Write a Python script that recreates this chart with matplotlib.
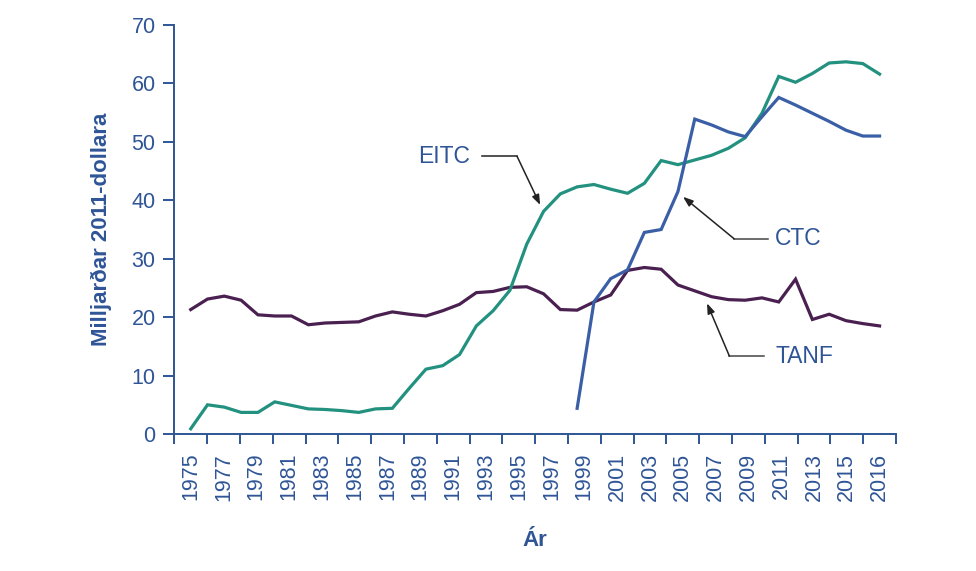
import numpy as np
import matplotlib
matplotlib.use("Agg")
import matplotlib.pyplot as plt
from matplotlib.ticker import FixedLocator

plt.rcParams['font.family'] = ['Liberation Sans', 'DejaVu Sans']

years = list(range(1975, 2017))

eitc = [0.9, 5.0, 4.6, 3.7, 3.7, 5.5, 4.9, 4.3, 4.2, 4.0,
        3.7, 4.3, 4.4, 7.8, 11.1, 11.7, 13.6, 18.5, 21.1, 24.6,
        32.5, 38.1, 41.1, 42.3, 42.7, 41.9, 41.2, 42.9, 46.8, 46.1,
        46.9, 47.7, 48.9, 50.7, 54.9, 61.2, 60.2, 61.7, 63.5, 63.7,
        63.4, 61.6]

tanf = [21.3, 23.1, 23.6, 22.9, 20.4, 20.2, 20.2, 18.7, 19.0, 19.1,
        19.2, 20.2, 20.9, 20.5, 20.2, 21.1, 22.2, 24.2, 24.4, 25.1,
        25.2, 24.0, 21.3, 21.2, 22.6, 23.8, 28.0, 28.5, 28.2, 25.5,
        24.5, 23.5, 23.0, 22.9, 23.3, 22.6, 26.5, 19.6, 20.5, 19.4,
        18.9, 18.5]

ctc_years = list(range(1998, 2017))
ctc = [4.4, 22.6, 26.6, 28.1, 34.5, 35.0, 41.5, 53.9, 52.9, 51.7,
       50.9, 54.3, 57.6, 56.3, 54.9, 53.5, 52.0, 51.0, 51.0]

tick_labels = [str(y) for y in range(1975, 2016, 2)] + ['2016']

y_ticks = [0, 10, 20, 30, 40, 50, 60, 70]

AX_COL = '#2F5597'
C_EITC = '#23917F'
C_CTC = '#3A5FA6'
C_TANF = '#4A2050'

fig = plt.figure(figsize=(9.76, 5.71), dpi=100)
ax = fig.add_axes([0.1786, 0.2399, 0.918 - 0.1786, 0.9562 - 0.2399])

ax.plot(years, tanf, color=C_TANF, lw=2.3, solid_joinstyle='miter', zorder=3)
ax.plot(years, eitc, color=C_EITC, lw=2.3, solid_joinstyle='miter', zorder=4)
ax.plot(ctc_years, ctc, color=C_CTC, lw=2.3, solid_joinstyle='miter', zorder=5)

n_int = len(tick_labels)
w = (years[-1] - years[0]) / (n_int - 1)
lo = years[0] - w / 2
hi = years[-1] + w / 2
ax.set_xlim(lo, hi)
ax.set_ylim(0, 70)

ax.xaxis.set_major_locator(FixedLocator([lo + k * w for k in range(n_int + 1)]))
ax.xaxis.set_minor_locator(FixedLocator([lo + (k + 0.5) * w for k in range(n_int)]))
ax.set_xticklabels([], minor=False)
ax.set_xticklabels(tick_labels, minor=True, rotation=90)
ax.tick_params(axis='x', which='major', length=7, width=1.4, color=AX_COL, direction='out')
ax.tick_params(axis='x', which='minor', length=0, pad=13.5, labelsize=15.5, labelcolor=AX_COL)

ax.set_yticks(y_ticks)
ax.tick_params(axis='y', length=8, width=1.4, color=AX_COL, labelsize=15.5,
               labelcolor=AX_COL, pad=5.5)

for s in ['top', 'right']:
    ax.spines[s].set_visible(False)
for s in ['left', 'bottom']:
    ax.spines[s].set_color(AX_COL)
    ax.spines[s].set_linewidth(1.4)

ax.set_ylabel('Milljarðar 2011-dollara', fontsize=16, fontweight='bold', color=AX_COL, labelpad=14)
fig.text(535 / 976, 1 - 540 / 571, 'Ár', fontsize=16, fontweight='bold', color=AX_COL,
         ha='center', va='center')

arrow_kw = dict(arrowstyle='-|>,head_length=0.6,head_width=0.22', color='#222222',
                lw=1.1, shrinkA=0, shrinkB=0, mutation_scale=10)

# EITC label
ax.text(1991.63, 47.55, 'EITC', fontsize=16.5, color=AX_COL, ha='right', va='center')
ax.plot([1992.33, 1994.42], [47.55, 47.55], color='#222222', lw=1.1)
ax.annotate('', xy=(1995.80, 39.2), xytext=(1994.42, 47.55), arrowprops=arrow_kw)

# CTC label
ax.text(2009.74, 33.4, 'CTC', fontsize=16.5, color=AX_COL, ha='left', va='center')
ax.plot([2009.38, 2007.35], [33.4, 33.4], color='#444444', lw=1.1)
ax.annotate('', xy=(2004.30, 40.6), xytext=(2007.35, 33.4), arrowprops=arrow_kw)

# TANF label
ax.text(2009.80, 13.35, 'TANF', fontsize=16.5, color=AX_COL, ha='left', va='center')
ax.plot([2009.14, 2007.06], [13.35, 13.35], color='#444444', lw=1.1)
ax.annotate('', xy=(2005.73, 22.37), xytext=(2007.06, 13.35), arrowprops=arrow_kw)

fig.savefig('out.png', dpi=100)
